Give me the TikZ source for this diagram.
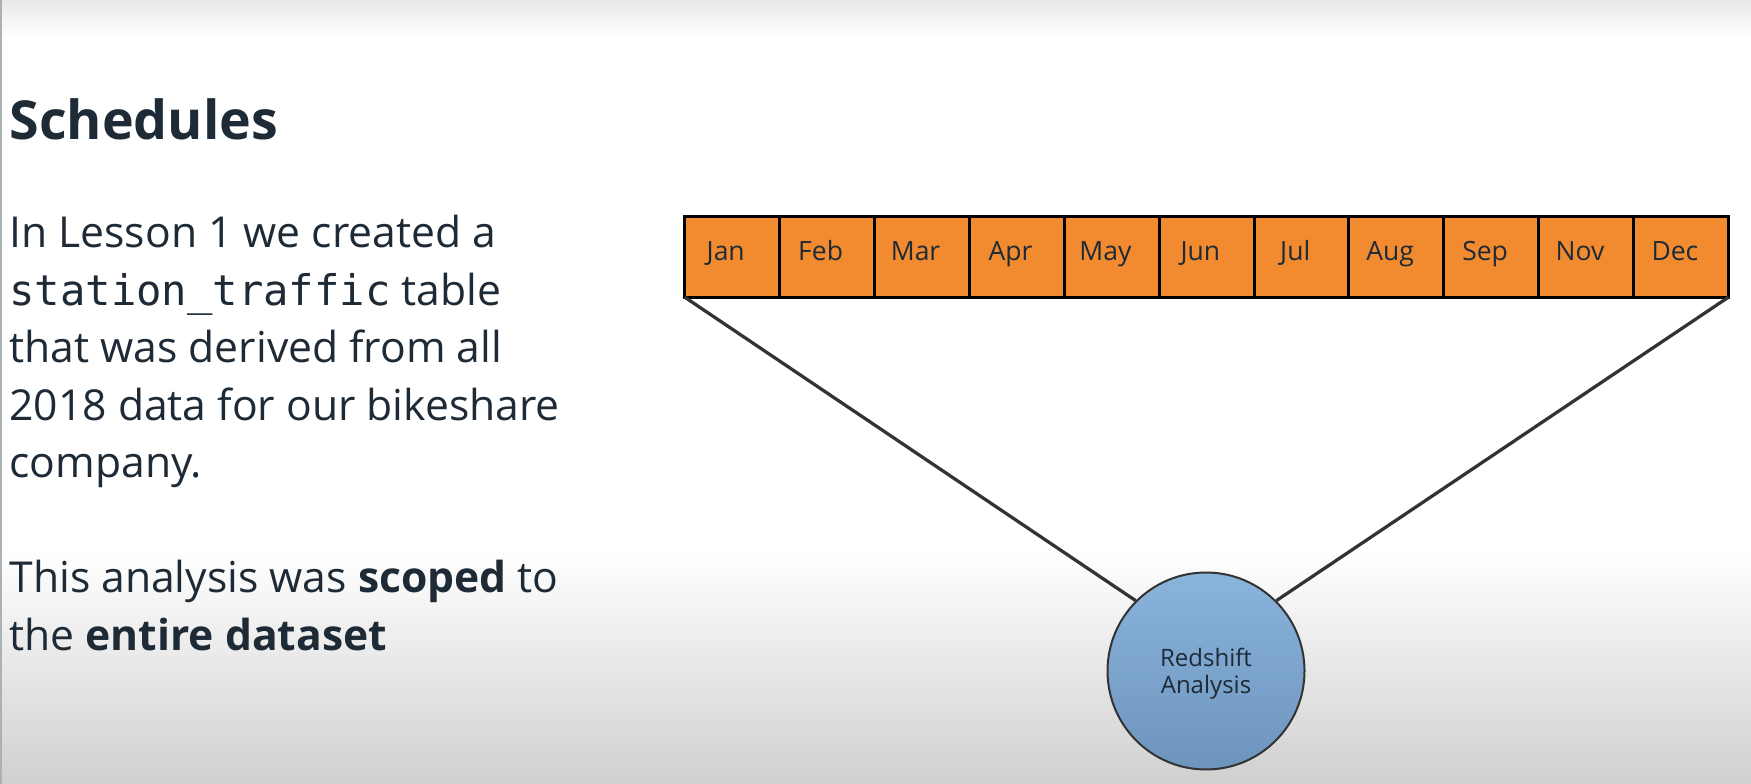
\documentclass[tikz,border=0pt]{standalone}
\usepackage{fontspec}
\setmainfont{Open Sans}
\setmonofont[Scale=0.99]{DejaVu Sans Mono}
\usepackage{xcolor}
\definecolor{mainDark}{HTML}{1E2B36}
\definecolor{cellOrange}{HTML}{F28A2F}
\definecolor{lineGrey}{HTML}{333333}
\definecolor{blueTop}{HTML}{8AB4DC}
\definecolor{blueBottom}{HTML}{6D94BC}
\definecolor{bgTop}{HTML}{E8E8E8}
\definecolor{bgBottom}{HTML}{D0D0D0}
\definecolor{edgeGrey}{HTML}{AAB2B2}
\usetikzlibrary{positioning,calc}
\tikzset{%
  monthBox/.style={%
    rectangle,
    draw=black,
    line width=1.2pt,
    fill=cellOrange,
    minimum width=37.97pt,
    minimum height=32.2pt,
    text height=6pt,
    text depth=2.8pt,
    inner sep=0pt,
    outer sep=0pt,
    execute at end node=\hspace{5pt},
    font=\fontsize{10.6}{12}\selectfont,
    text=mainDark
  },
  analysisCircle/.style={%
    circle,
    draw=black!80,
    line width=0.8pt,
    top color=blueTop,
    bottom color=blueBottom,
    minimum size=78.8pt,
    inner sep=0pt,
    align=center,
    text height=18pt,
    text depth=0pt,
    font=\fontsize{9.6}{10.8}\selectfont,
    text=mainDark
  },
  linkLine/.style={%
    line width=1.3pt,
    color=lineGrey
  },
  bodyText/.style={%
    anchor=base west,
    align=left,
    inner sep=0pt,
    text=mainDark,
    font=\fontsize{17.05}{23}\selectfont
  }
}

\begin{document}
\begin{tikzpicture}[x=0.4pt, y=-0.4pt]
  \useasboundingbox (0,0) rectangle (1751,784);
  % background
  \fill[white] (0,0) rectangle (1751,784);
  \shade[top color=bgTop, bottom color=white] (0,0) rectangle (1751,38);
  \shade[top color=white, bottom color=bgBottom] (0,550) rectangle (1751,784);
  \fill[edgeGrey] (0,0) rectangle (2,784);

  % text on the left (base = last line)
  \node[bodyText, font=\fontsize{21.5}{26}\selectfont\bfseries] (title) at (9,139.6) {Schedules};
  \node[bodyText] (lesson) at (9,478) {In Lesson 1 we created a\\
    \texttt{station\_traffic} table\\
    that was derived from all\\
    2018 data for our bikeshare\\
    company.};
  \node[bodyText] (scope) at (9,650) {This analysis was \textbf{scoped} to\\
    the \textbf{entire dataset}};

  % months
  \foreach \m [count=\i] in {Jan,Feb,Mar,Apr,May,Jun,Jul,Aug,Sep,Nov,Dec}
    \node[monthBox] (m\i) at ({684.5+(\i-0.5)*94.92},256.8) {\m};

  \node[analysisCircle] (redshift) at (1206,671) {Redshift\\Analysis};

  \draw[linkLine] (m1.south west) -- (redshift.135);
  \draw[linkLine] (m11.south east) -- (redshift.45);
\end{tikzpicture}
\end{document}
